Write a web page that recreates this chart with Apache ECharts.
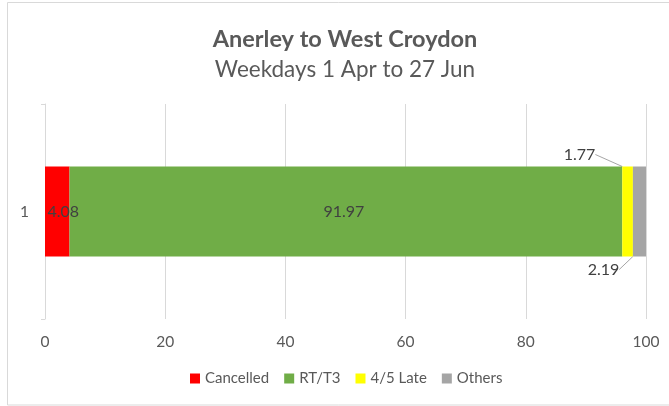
<!DOCTYPE html>
<html>
<head>
<meta charset="utf-8">
<script src="https://cdn.jsdelivr.net/npm/echarts@6/dist/echarts.min.js"></script>
<style>
html,body{margin:0;padding:0;background:#fff;}
#chart{width:669px;height:406px;}
</style>
</head>
<body>
<div id="chart"></div>
<script>
const categories = ['1'];
const seriesNames = ['Cancelled', 'RT/T3', '4/5 Late', 'Others'];
const cancelled = [4.08];
const rtT3 = [91.97];
const late45 = [1.77];
const others = [2.19];
const xTicks = [0, 20, 40, 60, 80, 100];

const FONT = 'Lato, "Open Sans", sans-serif';
const TXT = '#595959';
const colors = ['#FF0000', '#70AD47', '#FFFF00', '#A5A5A5'];
const dataSets = [cancelled, rtT3, late45, others];

const chart = echarts.init(document.getElementById('chart'), null, {renderer: 'canvas'});

const leader = {show: true, length2: 0, lineStyle: {color: '#A6A6A6', width: 1}};
const labelCfgs = [
  {label: {show: true, position: 'inside', offset: [6, 0]}},
  {label: {show: true, position: 'inside', offset: [-2, 0]}},
  {label: {show: true, position: 'top'}, labelLayout: {dx: -48, dy: 1}, labelLine: leader},
  {label: {show: true, position: 'bottom'}, labelLayout: {dx: -36, dy: 0}, labelLine: leader}
];

const series = seriesNames.map((name, i) => Object.assign({
  name: name,
  type: 'bar',
  stack: 'total',
  data: dataSets[i],
  barWidth: 90,
  itemStyle: {color: colors[i]},
  emphasis: {disabled: true}
}, labelCfgs[i], {
  label: Object.assign({}, labelCfgs[i].label, {
    color: '#404040', fontFamily: FONT, fontSize: 16,
    formatter: p => p.value.toFixed(2)
  })
}));

chart.setOption({
  animation: false,
  backgroundColor: '#fff',
  textStyle: {fontFamily: FONT},
  graphic: [{
    type: 'rect',
    shape: {x: 7.5, y: 2.5, width: 663, height: 402.5},
    style: {fill: 'none', stroke: '#D9D9D9', lineWidth: 1},
    silent: true, z: -1
  }],
  title: {
    text: 'Anerley to West Croydon',
    subtext: 'Weekdays 1 Apr to 27 Jun',
    left: 340,
    textAlign: 'center',
    top: 22,
    itemGap: 7,
    textStyle: {color: TXT, fontFamily: FONT, fontSize: 23.5, fontWeight: 'bold'},
    subtextStyle: {color: TXT, fontFamily: FONT, fontSize: 22.5, fontWeight: 'normal'}
  },
  legend: {
    data: seriesNames,
    bottom: 20,
    left: 190,
    itemWidth: 10,
    itemHeight: 10,
    itemGap: 15,
    icon: 'rect',
    padding: 0,
    textStyle: {color: TXT, fontFamily: FONT, fontSize: 15}
  },
  grid: {left: 45, right: 23, top: 104, bottom: 87, containLabel: false},
  xAxis: {
    type: 'value',
    min: xTicks[0],
    max: xTicks[xTicks.length - 1],
    interval: 20,
    axisLine: {show: false},
    axisTick: {show: false},
    splitLine: {lineStyle: {color: '#D9D9D9', width: 1}},
    axisLabel: {color: TXT, fontFamily: FONT, fontSize: 15.5, margin: 15}
  },
  yAxis: {
    type: 'category',
    data: categories,
    axisLine: {lineStyle: {color: '#D9D9D9', width: 1}},
    axisTick: {show: true, length: 4, lineStyle: {color: '#D9D9D9'}},
    axisLabel: {color: TXT, fontFamily: FONT, fontSize: 15.5, margin: 16}
  },
  series: series
});
</script>
</body>
</html>
